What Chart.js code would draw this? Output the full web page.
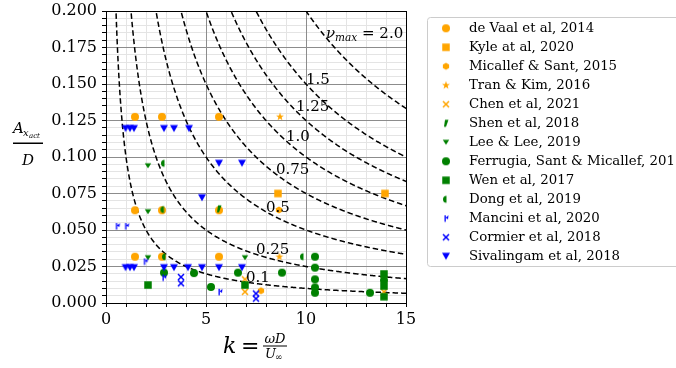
<!DOCTYPE html>
<html><head><meta charset="utf-8">
<script src="https://cdn.jsdelivr.net/npm/chart.js@4.4.1/dist/chart.umd.min.js"></script>
<style>html,body{margin:0;padding:0;background:#fff;}canvas{display:block;}</style>
</head><body>
<canvas id="c" width="676" height="368"></canvas>
<script>
// ---------- tick labels & reference levels ----------
const xTickLabels = ['0', '5', '10', '15'];
const yTickLabels = ['0.000','0.025','0.050','0.075','0.100','0.125','0.150','0.175','0.200'];
const nuLevels    = [0.1, 0.25, 0.5, 0.75, 1.0, 1.25, 1.5, 2.0];
const nuLabelK    = [7, 7.5, 8, 8.5, 9, 9.5, 10, 11];
const nuLabelText = ['0.1','0.25','0.5','0.75','1.0','1.25','1.5','2.0'];

// ---------- series (k, A/D) ----------
const seriesNames = ['de Vaal et al, 2014','Kyle at al, 2020','Micallef & Sant, 2015','Tran & Kim, 2016',
  'Chen et al, 2021','Shen et al, 2018','Lee & Lee, 2019','Ferrugia, Sant & Micallef, 2015','Wen et al, 2017',
  'Dong et al, 2019','Mancini et al, 2020','Cormier et al, 2018','Sivalingam et al, 2018'];

const deVaalK = [1.45, 2.8, 5.65, 1.45, 2.8, 5.65, 1.45, 2.8, 5.65];
const deVaalA = [0.1275, 0.1275, 0.1275, 0.0635, 0.0635, 0.0635, 0.0317, 0.0317, 0.0317];
const kyleK = [8.6, 13.95];
const kyleA = [0.075, 0.075];
const micallefK = [8.65, 7.75];
const micallefA = [0.0637, 0.0084];
const tranK = [8.7, 8.67];
const tranA = [0.1276, 0.0317];
const chenK = [6.95, 6.95, 13.9, 13.9];
const chenA = [0.0162, 0.0077, 0.0162, 0.0077];
const shenK = [5.65];
const shenA = [0.0645];
const leeK = [2.1, 2.1, 2.1, 6.95];
const leeA = [0.094, 0.0625, 0.031, 0.031];
const ferrugiaK = [2.9, 4.4, 5.25, 6.6, 8.8, 10.45, 10.45, 10.45, 10.45, 10.45, 13.2, 13.9];
const ferrugiaA = [0.0208, 0.0205, 0.011, 0.0208, 0.0208, 0.0317, 0.0242, 0.0162, 0.0107, 0.007, 0.007, 0.0155];
const wenK = [2.1, 6.95, 13.9, 13.9, 13.9];
const wenA = [0.0123, 0.0123, 0.0199, 0.0116, 0.0043];
const dongK = [2.9, 2.87, 2.95, 9.85];
const dongA = [0.0957, 0.064, 0.0317, 0.0317];
const manciniK = [0.57, 1.03, 1.97, 2.9, 5.7];
const manciniA = [0.0527, 0.0527, 0.0285, 0.0175, 0.0077];
const cormierK = [3.75, 3.75, 7.5, 7.5];
const cormierA = [0.0178, 0.0135, 0.0065, 0.003];
const sivaK = [0.98, 1.2, 1.4, 2.9, 3.4, 4.15, 5.65, 6.8, 4.8, 0.98, 1.2, 1.4, 2.9, 3.4, 4.1, 4.8, 5.65, 6.8];
const sivaA = [0.1195, 0.1195, 0.1195, 0.1195, 0.1195, 0.1195, 0.0957, 0.0957, 0.0721,
               0.0242, 0.0242, 0.0242, 0.0242, 0.0242, 0.0242, 0.0242, 0.0242, 0.0242];

// ---------- markers ----------
const ORANGE = '#ffa500', GREEN = '#008000', BLUE = '#0000ff';
function mk(draw){const c=document.createElement('canvas');c.width=12;c.height=12;const g=c.getContext('2d');g.translate(6,6);draw(g);return c;}
const mCircle=(col,r)=>mk(g=>{g.fillStyle=col;g.beginPath();g.arc(0,0,r,0,2*Math.PI);g.fill();});
const mSquare=(col,s)=>mk(g=>{g.fillStyle=col;g.fillRect(-s/2,-s/2,s,s);});
const mHex=(col,r)=>mk(g=>{g.fillStyle=col;g.beginPath();for(let i=0;i<6;i++){const a=-Math.PI/2+i*Math.PI/3;g.lineTo(r*Math.cos(a),r*Math.sin(a));}g.closePath();g.fill();});
const mStar=(col,r)=>mk(g=>{g.fillStyle=col;g.beginPath();for(let i=0;i<10;i++){const a=-Math.PI/2+i*Math.PI/5;const rr=i%2?r*0.4:r;g.lineTo(rr*Math.cos(a),rr*Math.sin(a));}g.closePath();g.fill();});
const mX=(col,r,lw)=>mk(g=>{g.strokeStyle=col;g.lineWidth=lw;g.beginPath();g.moveTo(-r,-r);g.lineTo(r,r);g.moveTo(-r,r);g.lineTo(r,-r);g.stroke();});
const mTri=(col,w,h)=>mk(g=>{g.fillStyle=col;g.beginPath();g.moveTo(-w/2,-h/2);g.lineTo(w/2,-h/2);g.lineTo(0,h/2);g.closePath();g.fill();});
const mHalf=(col,r)=>mk(g=>{g.fillStyle=col;g.beginPath();g.arc(0.5,0,r,Math.PI/2,3*Math.PI/2);g.closePath();g.fill();});
const mShen=(col)=>mk(g=>{g.fillStyle=col;g.beginPath();g.moveTo(-1,-3.5);g.lineTo(2.5,-3.5);g.lineTo(0,3.5);g.lineTo(-2,3.5);g.closePath();g.fill();});
const mMancini=(col)=>mk(g=>{g.fillStyle=col;g.fillRect(-1.5,-3,1.3,6.5);g.beginPath();g.moveTo(-0.5,-0.5);g.lineTo(2.5,-3);g.lineTo(2,1);g.closePath();g.fill();});

const markers = [
  mCircle(ORANGE,4), mSquare(ORANGE,7.5), mHex(ORANGE,3.6), mStar(ORANGE,4.2), mX(ORANGE,3,1.5),
  mShen(GREEN), mTri(GREEN,6.5,5), mCircle(GREEN,4), mSquare(GREEN,7.5), mHalf(GREEN,3.5),
  mMancini(BLUE), mX(BLUE,3,1.5), mTri(BLUE,8,7)
];
const seriesK = [deVaalK,kyleK,micallefK,tranK,chenK,shenK,leeK,ferrugiaK,wenK,dongK,manciniK,cormierK,sivaK];
const seriesA = [deVaalA,kyleA,micallefA,tranA,chenA,shenA,leeA,ferrugiaA,wenA,dongA,manciniA,cormierA,sivaA];

const datasets = seriesNames.map((name,i)=>({
  label:name,
  data: seriesK[i].map((k,j)=>({x:k,y:seriesA[i][j]})),
  pointStyle: markers[i], pointRadius:4, pointHoverRadius:4,
  showLine:false, order: seriesNames.length - i
}));

const SERIF = '"DejaVu Serif", serif';
const isMul=(v,s)=>Math.abs(v/s-Math.round(v/s))<1e-6;
const MAJOR_GRID = '#8c8c8c', MINOR_GRID = '#e4e4e4';
const align = p => Math.round(p - 0.5) + 0.5;

const decor = {
  id:'decor',
  beforeDatasetsDraw(chart){
    const {ctx, chartArea:a, scales:{x,y}} = chart;
    ctx.save();
    // major grid on top of the minor grid
    ctx.strokeStyle=MAJOR_GRID; ctx.lineWidth=1;
    x.ticks.forEach(t=>{ if(isMul(t.value,5)){ const p=align(x.getPixelForValue(t.value)); ctx.beginPath(); ctx.moveTo(p,a.top); ctx.lineTo(p,a.bottom); ctx.stroke(); }});
    y.ticks.forEach(t=>{ if(isMul(t.value,0.025)){ const p=align(y.getPixelForValue(t.value)); ctx.beginPath(); ctx.moveTo(a.left,p); ctx.lineTo(a.right,p); ctx.stroke(); }});
    // constant nu_max curves
    ctx.beginPath(); ctx.rect(a.left,a.top,a.right-a.left,a.bottom-a.top); ctx.clip();
    ctx.strokeStyle='#000'; ctx.lineWidth=1.5; ctx.setLineDash([5.5,3]);
    nuLevels.forEach(nu=>{
      ctx.beginPath();
      let first=true;
      for(let k=nu/0.21;k<=15.05;k+=0.02){
        const px=x.getPixelForValue(k), py=y.getPixelForValue(nu/k);
        if(first){ctx.moveTo(px,py);first=false;} else ctx.lineTo(px,py);
      }
      ctx.stroke();
    });
    ctx.restore();
  },
  afterDatasetsDraw(chart){
    const {ctx, chartArea:a, scales:{x,y}} = chart;
    ctx.save();
    ctx.strokeStyle='#000'; ctx.lineWidth=1;
    const l=align(a.left), r=align(a.right), t=align(a.top), b=align(a.bottom);
    ctx.strokeRect(l, t, r-l, b-t);
    ctx.fillStyle='#000'; ctx.textBaseline='alphabetic'; ctx.textAlign='left';
    nuLevels.forEach((nu,i)=>{
      const k=nuLabelK[i];
      let px=x.getPixelForValue(k), py=y.getPixelForValue(nu/k);
      if(i===nuLevels.length-1){
        ctx.font='italic 15px '+SERIF; ctx.fillText('ν',px,py); px+=ctx.measureText('ν').width;
        ctx.font='italic 10.5px '+SERIF; ctx.fillText('max',px,py+3); px+=ctx.measureText('max').width;
        ctx.font='15px '+SERIF; ctx.fillText(' = '+nuLabelText[i],px,py);
      } else {
        ctx.font='15px '+SERIF; ctx.fillText(nuLabelText[i],px,py);
      }
    });
    ctx.restore();
  },
  afterDraw(chart){
    const ctx=chart.ctx;
    ctx.save();
    ctx.fillStyle='#000'; ctx.textBaseline='alphabetic';
    ctx.textAlign='left';
    ctx.font='italic 15px '+SERIF; ctx.fillText('A',13,133);
    ctx.font='italic 10px '+SERIF; ctx.fillText('x',23,136);
    ctx.font='italic 7px '+SERIF; ctx.fillText('act',29,138);
    ctx.fillRect(13,142.5,30,1.5);
    ctx.textAlign='center'; ctx.font='italic 15px '+SERIF; ctx.fillText('D',28,165);
    ctx.textAlign='left';
    ctx.font='italic 22px '+SERIF; ctx.fillText('k',223,353);
    ctx.font='22px '+SERIF; ctx.fillText('=',241,353);
    ctx.textAlign='center';
    ctx.font='italic 13px '+SERIF; ctx.fillText('ωD',275,342.5);
    ctx.fillRect(263,345.5,24,1);
    ctx.textAlign='left';
    ctx.font='italic 13px '+SERIF; ctx.fillText('U',265,358);
    ctx.font='9px '+SERIF; ctx.fillText('∞',275,360);
    const L={x:427.5,y:17.5,w:260,h:249};
    ctx.fillStyle='#fff'; ctx.strokeStyle='#cccccc'; ctx.lineWidth=1;
    ctx.beginPath(); ctx.roundRect(L.x,L.y,L.w,L.h,3); ctx.fill(); ctx.stroke();
    ctx.fillStyle='#000'; ctx.font='13.3px '+SERIF; ctx.textBaseline='middle'; ctx.textAlign='left';
    seriesNames.forEach((n,i)=>{
      const cy=28.3+i*19;
      const m=markers[i];
      ctx.drawImage(m,446-m.width/2,cy-m.height/2);
      ctx.fillText(n,469,cy+0.5);
    });
    ctx.restore();
  }
};

new Chart(document.getElementById('c'),{
  type:'scatter',
  data:{datasets},
  plugins:[decor],
  options:{
    responsive:false, animation:false, devicePixelRatio:1,
    layout:{padding:{top:11,right:270,left:0,bottom:0}},
    plugins:{legend:{display:false},tooltip:{enabled:false}},
    scales:{
      x:{type:'linear',min:0,max:15,
        ticks:{stepSize:1,autoSkip:false,maxRotation:0,padding:3,color:'#000',font:{family:'DejaVu Serif',size:16},
          callback:v=>isMul(v,5)?xTickLabels[Math.round(v/5)]:''},
        grid:{color:c=>isMul(c.tick.value,5)?MAJOR_GRID:MINOR_GRID,lineWidth:1,tickLength:4,tickColor:'#000'},
        border:{display:false},
        afterFit:s=>{s.height=65;s.paddingLeft=0;s.paddingRight=0;}
      },
      y:{type:'linear',min:0,max:0.2,
        ticks:{stepSize:0.005,autoSkip:false,padding:5,color:'#000',font:{family:'DejaVu Serif',size:16},
          callback:v=>isMul(v,0.025)?yTickLabels[Math.round(v/0.025)]:''},
        grid:{color:c=>isMul(c.tick.value,0.025)?MAJOR_GRID:MINOR_GRID,lineWidth:1,tickLength:4,tickColor:'#000'},
        border:{display:false},
        afterFit:s=>{s.width=106;s.paddingTop=0;s.paddingBottom=0;}
      }
    }
  }
});
</script>
</body></html>
